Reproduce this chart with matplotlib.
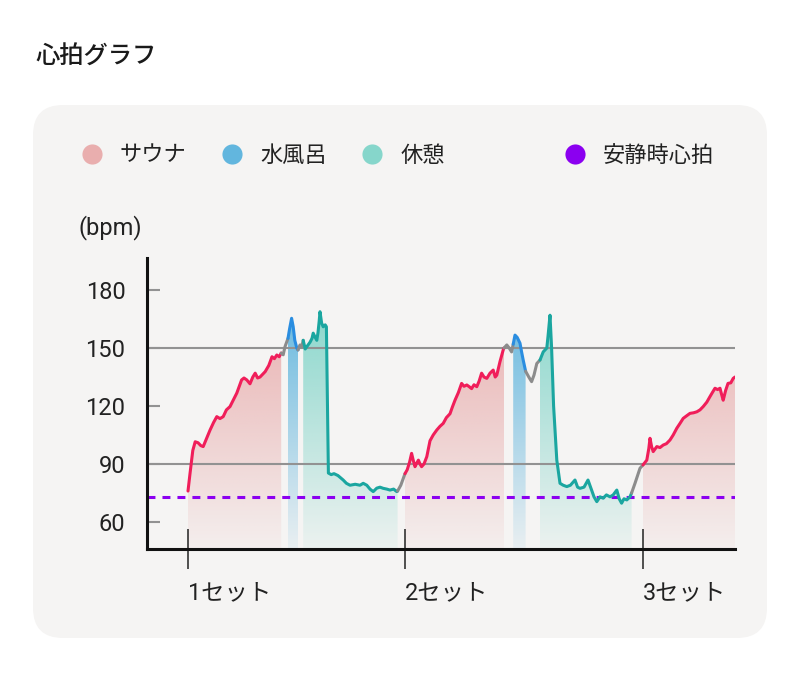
import matplotlib
matplotlib.use("Agg")
import matplotlib.pyplot as plt
import matplotlib.colors as mcolors
from matplotlib.lines import Line2D
from matplotlib.patches import FancyBboxPatch, Polygon
import numpy as np

plt.rcParams['font.family'] = ['Roboto', 'Noto Sans CJK JP', 'DejaVu Sans']

#心拍データ（分, bpm）
minutes = np.array([
    0.0, 0.5, 1.2, 1.8, 2.5, 3.2, 3.8, 4.6, 5.5, 6.4, 7.2, 8.0, 8.8, 9.6, 10.5,
    11.3, 12.2, 13.4, 14.0, 14.7, 15.5, 16.2, 16.8, 17.4, 18.0, 18.7, 19.3, 20.2,
    21.0, 21.6, 22.2, 22.8, 23.3,
    23.8, 24.25, 25.0,
    25.4, 25.9, 26.3, 26.7, 27.2, 27.5,
    28.0, 28.4, 28.8,
    29.3, 29.7, 30.5, 31.0, 31.3, 31.8, 32.2, 32.5, 32.8, 33.0, 33.4, 33.8, 34.3,
    34.6, 35.1, 35.8, 36.5, 37.5, 38.8, 39.6, 40.5, 41.8, 43.0, 43.8, 44.7, 45.5,
    46.3, 47.2, 48.0, 48.8, 49.7, 50.5, 51.4, 52.2, 52.4,
    53.2, 54.25,
    54.8, 55.4, 55.9, 56.3, 56.75, 57.2, 57.6, 58.0, 58.4, 59.0, 59.7, 60.5, 61.3,
    62.2, 63.0, 63.8, 64.6, 65.5, 66.1, 66.75, 67.6, 68.4, 69.0, 69.7, 70.3, 70.9,
    71.5, 72.2, 72.8, 73.4, 74.0, 74.7, 75.5, 76.3, 76.8, 77.2, 78.0, 78.8, 79.0,
    79.7, 80.3, 80.9, 81.3,
    81.75, 82.3, 83.0, 83.4, 83.8, 84.4,
    85.2, 85.9, 86.5, 87.2, 88.0,
    88.8, 89.7, 90.0, 90.5, 90.9, 91.4, 92.2, 93.0, 93.8, 94.7, 95.6, 96.75, 97.4,
    98.0, 99.0, 100.0, 100.9, 101.5, 102.2, 103.0, 103.8, 104.6, 105.5, 106.3,
    107.2, 107.8, 108.4, 109.0, 109.7, 110.5, 110.9,
    111.75, 113.0, 113.75,
    114.7, 115.2, 115.5, 115.9, 116.3, 117.2, 118.0, 118.8, 119.6, 120.5, 121.3,
    122.2, 123.0, 123.8, 124.7, 125.5, 126.4, 127.2, 128.0, 128.8, 129.7, 130.5,
    131.1, 131.75, 132.4, 133.0, 133.4, 133.8, 134.4, 135.0, 135.7, 136.3, 136.75,
])
bpm = np.array([
    76, 85, 97, 101.5, 101, 99.5, 99, 103, 107.5, 111.5, 114.5, 113.5, 114.5, 118,
    119.7, 123, 126.7, 133.5, 134.5, 133.5, 131.5, 135, 137, 134.5, 135, 136.5,
    137.8, 141, 145.5, 144.5, 146.4, 145.5, 147.4,
    146.5, 150.7, 155,
    160, 165.4, 161, 154, 150, 149,
    151.6, 150.5, 154,
    149.5, 150.7, 153, 155, 157.7, 155.5, 154, 158, 164, 168.8, 163, 161, 162,
    161, 85.3, 84.5, 85, 84, 81.7, 80, 79, 79.5, 79, 80, 79, 77,
    75.7, 77.5, 78, 77.4, 77, 76.5, 77, 75.7, 76,
    79, 85,
    87, 91, 95.5, 92, 88.6, 90.5, 92, 90, 88.6, 90, 93.8, 102, 105,
    107.6, 109.5, 111, 114, 116, 119.5, 123, 127, 131.7, 130.2, 130.9, 130, 129,
    131, 130, 133, 137, 135, 134.3, 137, 138.6, 135, 136, 143, 149, 150,
    151.6, 150, 148, 152,
    156.7, 155.5, 152.5, 148, 143.8, 138,
    135, 132.6, 136, 142, 143.8,
    148, 150, 156, 167, 150, 120, 92, 80, 79, 78.3, 79, 81.7, 78,
    77.4, 78, 81.7, 76.5, 73, 70.5, 73, 72.3, 74, 73, 74,
    76.5, 72, 69.7, 72, 71.4, 73, 75,
    80, 87.8, 89.5,
    92, 98, 103.3, 99, 96.4, 99, 98.5, 99.8, 100.5, 102.4, 105,
    108.5, 111, 113.6, 115, 116.2, 116.5, 117, 118, 119.7, 122, 124.9,
    127, 129.2, 128.5, 129.2, 126, 123, 128, 131.7, 132, 134.3, 135,
])

#区間（開始, 終了, 種類）
phase_spans = [
    (0.0, 23.3, "sauna"), (23.3, 25.0, "move"), (25.0, 27.5, "water"),
    (27.5, 28.8, "move"), (28.8, 52.4, "rest"), (52.4, 54.25, "move"),
    (54.25, 79.0, "sauna"), (79.0, 81.3, "move"), (81.3, 84.4, "water"),
    (84.4, 88.0, "move"), (88.0, 110.9, "rest"), (110.9, 113.75, "move"),
    (113.75, 136.75, "sauna"),
]

set_starts = [0.0, 54.25, 113.75]
set_labels = ["1セット", "2セット", "3セット"]
resting_bpm = 73
y_ticks = [60, 90, 120, 150, 180]
grid_bpm = [90, 150]

legend_names = {"sauna": "サウナ", "water": "水風呂", "rest": "休憩"}
fill_colors = {"sauna": "#e9aeae", "water": "#62b6de", "rest": "#86d6cb"}
line_colors = {"sauna": "#f01e5a", "water": "#2a8de0", "rest": "#1ba6a0",
               "move": "#8c8c8c"}
resting_color = "#8b00f0"

Y_MIN, Y_MAX = 46, 196.6
X_MIN, X_MAX = -10.25, 136.75


#グラデーション塗り
def gradient_fill(ax, t, y, color):
    rgb = mcolors.to_rgb(color)
    img = np.zeros((256, 1, 4))
    img[:, 0, :3] = rgb
    img[:, 0, 3] = np.linspace(0.08, 1.0, 256)
    im = ax.imshow(img, aspect="auto", origin="lower", zorder=1,
                   extent=[t.min(), t.max(), Y_MIN, 176], interpolation="bilinear")
    verts = np.column_stack([np.r_[t, t[::-1]],
                             np.r_[y, np.full(len(t), Y_MIN)]])
    clip = Polygon(verts, closed=True, facecolor="none", edgecolor="none",
                   transform=ax.transData)
    ax.add_patch(clip)
    im.set_clip_path(clip)


def main():
    fig = plt.figure(figsize=(8, 6.84), dpi=100)
    fig.patch.set_facecolor("white")

    #背景カード（ピクセル座標）
    bg = fig.add_axes([0, 0, 1, 1], zorder=0)
    bg.set_xlim(0, 800), bg.set_ylim(684, 0)
    bg.axis("off")
    bg.add_patch(FancyBboxPatch((33, 105), 734, 533,
                                boxstyle="round,pad=0,rounding_size=30",
                                facecolor="#f5f4f3", edgecolor="none"))
    fig.text(35 / 800, 1 - 57 / 684, "心拍グラフ", fontsize=17.5,
             fontweight="medium", color="#1a1a1a", va="center", ha="left")
    fig.text(110 / 800, 1 - 228 / 684, "(bpm)", fontsize=17,
             color="#222222", va="center", ha="center")

    ax = fig.add_axes([147 / 800, 1 - 549 / 684, 588 / 800, 291 / 684], zorder=1)
    ax.set_facecolor("none")

    #塗りと線
    for start, end, kind in phase_spans:
        m = (minutes >= start) & (minutes <= end)
        t, y = minutes[m], bpm[m]
        if kind != "move":
            gradient_fill(ax, t, y, fill_colors[kind])
        ax.plot(t, y, color=line_colors[kind], lw=2.2, zorder=4,
                solid_capstyle="round", solid_joinstyle="round")

    for g in grid_bpm:
        ax.axhline(g, color="#929292", lw=1.5, zorder=2)
    ax.axhline(resting_bpm, color=resting_color, lw=2.2, dashes=(2.6, 2.3),
               zorder=3)

    ax.set_xlim(X_MIN, X_MAX)
    ax.set_ylim(Y_MIN, Y_MAX)
    ax.set_yticks(y_ticks)
    ax.set_xticks(set_starts, set_labels)
    for lab in ax.get_xticklabels():
        lab.set_ha("left")
    ax.tick_params(axis="y", direction="in", length=9.5, width=1.5,
                   color="#929292", labelsize=17, labelcolor="#222222", pad=15.5)
    ax.tick_params(axis="x", direction="inout", length=28.8, width=1.1,
                   color="#222222", labelsize=16.8, labelcolor="#222222", pad=8.5)
    for s in ("top", "right"):
        ax.spines[s].set_visible(False)
    for s in ("left", "bottom"):
        ax.spines[s].set_color("#111111")
        ax.spines[s].set_linewidth(2.2)
        ax.spines[s].set_zorder(5)

    #凡例
    h1 = [Line2D([], [], ls="none", marker="o", markersize=14.5,
                 markerfacecolor=fill_colors[k], markeredgecolor="none",
                 label=legend_names[k]) for k in ("sauna", "water", "rest")]
    h2 = [Line2D([], [], ls="none", marker="o", markersize=14.5,
                 markerfacecolor=resting_color, markeredgecolor="none",
                 label="安静時心拍")]
    kw = dict(frameon=False, fontsize=16, handlelength=1.0, handletextpad=0.75,
              borderpad=0, borderaxespad=0, loc="center left",
              bbox_transform=bg.transData, labelcolor="#222222")
    leg1 = bg.legend(handles=h1, ncol=3, columnspacing=1.55,
                     bbox_to_anchor=(81, 156), **kw)
    bg.add_artist(leg1)
    bg.legend(handles=h2, bbox_to_anchor=(564, 156), **kw)

    fig.savefig("out.png", dpi=100, facecolor="white")


if __name__ == "__main__":
    main()
